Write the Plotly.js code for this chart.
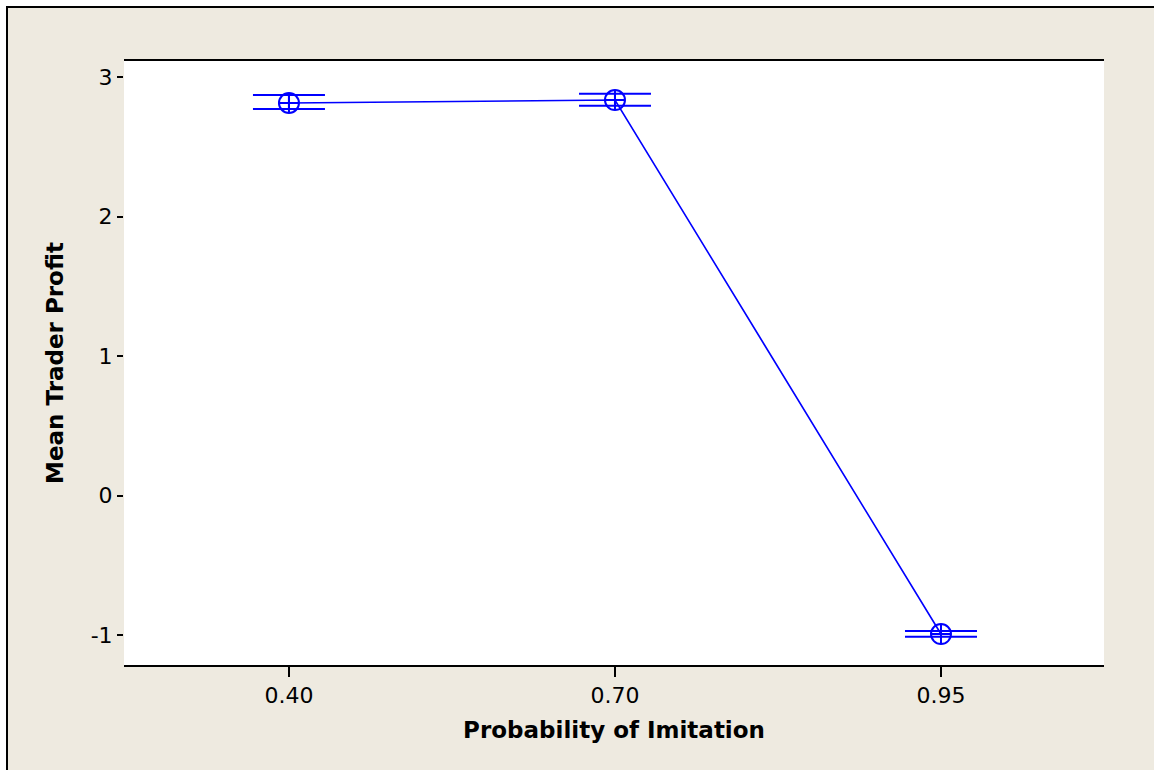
<!DOCTYPE html>
<html><head><meta charset="utf-8">
<script src="https://cdn.plot.ly/plotly-3.0.1.min.js"></script>
<style>
html,body{margin:0;padding:0;background:#fff;overflow:hidden;}
#frame{position:absolute;left:6px;top:6px;width:1146px;height:762px;border-left:2px solid #000;border-top:2px solid #000;background:#EEEAE0;}
#plot{width:1146px;height:762px;}
</style></head><body>
<div id="frame"><div id="plot"></div></div>
<script>
const categories = ["0.40", "0.70", "0.95"];
const meanProfit = [2.814, 2.835, -0.993];
const upperCI = [2.871, 2.881, -0.971];
const lowerCI = [2.771, 2.795, -1.013];

const errPlus = meanProfit.map((m, i) => upperCI[i] - m);
const errMinus = meanProfit.map((m, i) => m - lowerCI[i]);

const trace = {
  x: categories,
  y: meanProfit,
  type: 'scatter',
  mode: 'lines+markers',
  line: {color: '#0000FF', width: 1.6},
  marker: {symbol: 'circle-cross-open', size: 20, color: '#0000FF', line: {width: 2, color: '#0000FF'}},
  error_y: {type: 'data', symmetric: false, array: errPlus, arrayminus: errMinus, color: '#0000FF', thickness: 2, width: 36},
  hoverinfo: 'x+y'
};

const fontFam = 'DejaVu Sans, Verdana, sans-serif';
const layout = {
  width: 1146, height: 762,
  paper_bgcolor: '#EEEAE0',
  plot_bgcolor: '#FFFFFF',
  margin: {l: 116, r: 50, t: 53, b: 105},
  showlegend: false,
  font: {family: fontFam, color: '#000', size: 22},
  xaxis: {
    type: 'category',
    range: [-0.506, 2.5],
    showline: true, mirror: true, linecolor: '#000', linewidth: 2,
    ticks: 'outside', ticklen: 10, tickwidth: 2, tickcolor: '#000',
    showgrid: false, zeroline: false,
    tickfont: {family: fontFam, size: 22},
    title: {text: '<b>Probability of Imitation</b>', font: {family: fontFam, size: 23}, standoff: 14}
  },
  yaxis: {
    range: [-1.215, 3.115],
    tickvals: [-1, 0, 1, 2, 3],
    ticktext: ['-1', '0', '1', '2', '3'],
    showline: false, ticks: 'outside', ticklen: 6, tickwidth: 2, tickcolor: '#000',
    showgrid: false, zeroline: false,
    tickfont: {family: fontFam, size: 22},
    title: {text: '<b>Mean Trader Profit</b>', font: {family: fontFam, size: 23}, standoff: 20}
  }
};

Plotly.newPlot('plot', [trace], layout, {displayModeBar: false});
</script>
</body></html>
